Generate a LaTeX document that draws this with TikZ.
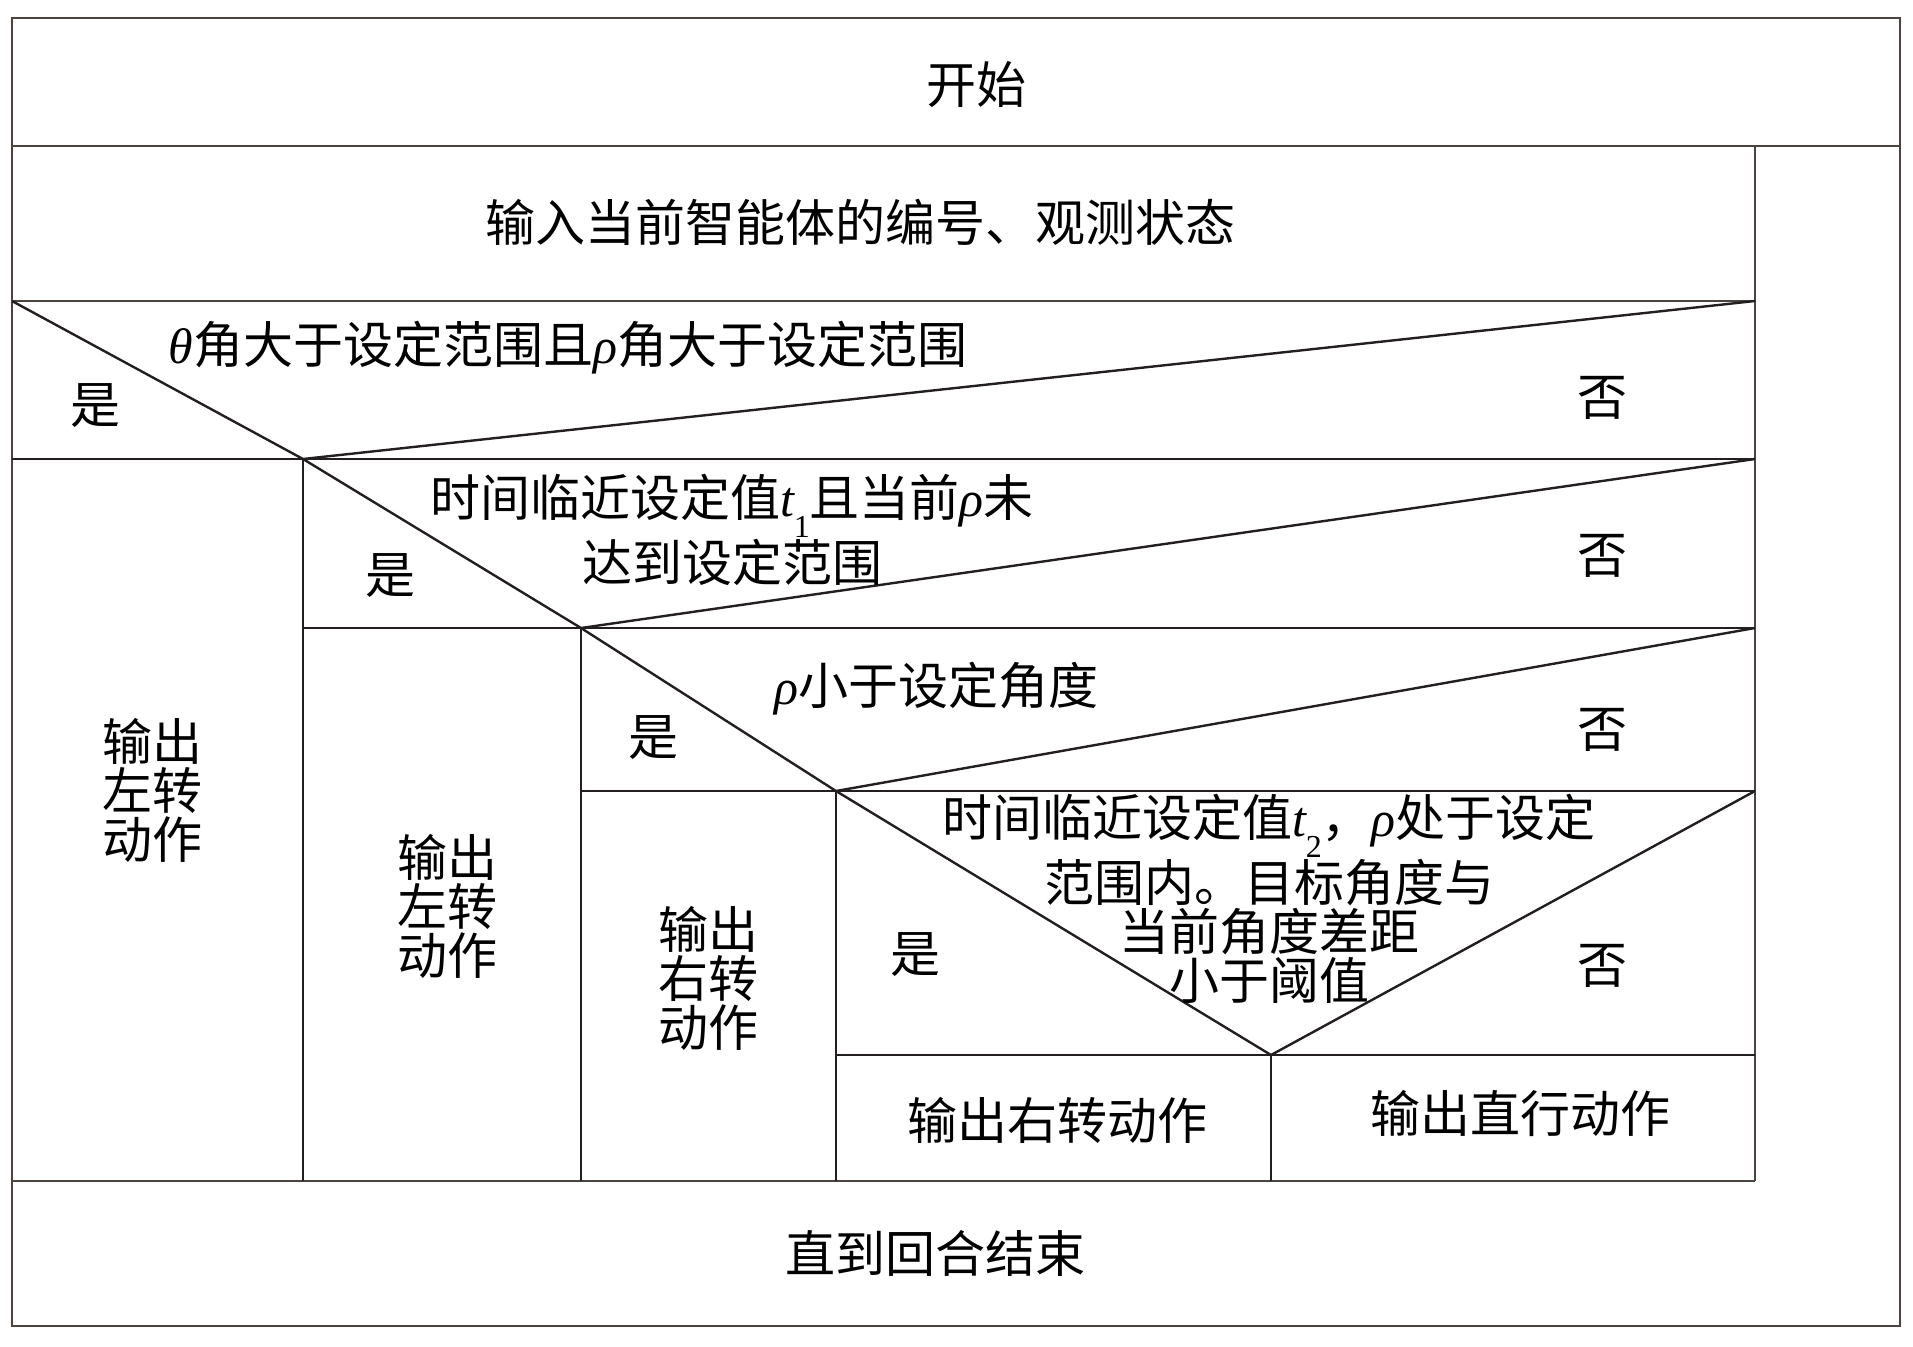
\documentclass[tikz,border=0pt]{standalone}
\usepackage{fontspec}
\newfontfamily\cjk{Noto Sans CJK SC}
\newfontfamily\tms{Liberation Serif}
\newcommand{\mvar}[1]{{\tms\itshape #1}}
\newcommand{\lsub}[1]{\raisebox{-0.42em}{\tms\fontsize{16}{16}\selectfont #1}}
\definecolor{lnc}{HTML}{231F20}
\definecolor{frc}{HTML}{4A4340}
\begin{document}
\begin{tikzpicture}[x=0.5pt,y=-0.5pt,
  framel/.style={draw=frc,line width=0.6pt},
  structl/.style={draw=lnc,line width=1.2pt},
  txt/.style={font=\cjk\fontsize{25}{25}\selectfont,inner sep=0pt,align=center,text=black},
  stack/.style={txt,font=\cjk\fontsize{25}{24.5}\selectfont}]
\useasboundingbox (0,0) rectangle (1913,1346);
% corner coordinates
\coordinate (oTL) at (12,18);
\coordinate (oBR) at (1900,1326);
\coordinate (a1) at (12,146);   \coordinate (a2) at (1900,146);
\coordinate (b1) at (1755,146); \coordinate (b2) at (1755,1181);
\coordinate (c1) at (12,1181);
\coordinate (d1) at (12,301);   \coordinate (d2) at (1755,301);
\coordinate (e1) at (12,459);   \coordinate (v1) at (303,459);  \coordinate (e2) at (1755,459);
\coordinate (v2) at (581,628);  \coordinate (f1) at (303,628);  \coordinate (f2) at (1755,628);
\coordinate (v3) at (836,791);  \coordinate (g1) at (581,791);  \coordinate (g2) at (1755,791);
\coordinate (v4) at (1271,1055);\coordinate (h1) at (836,1055); \coordinate (h2) at (1755,1055);
\coordinate (v1b) at (303,1181); \coordinate (v2b) at (581,1181);
\coordinate (v3b) at (836,1181); \coordinate (v4b) at (1271,1181);
% outer frame
\draw[framel] (oTL) rectangle (oBR);
\draw[framel] (a1) -- (a2);
\draw[framel] (b1) -- (b2);
\draw[framel] (c1) -- (b2);
\draw[framel] (d1) -- (d2);
% structure
\draw[structl] (e1) -- (e2);
\draw[structl] (f1) -- (f2);
\draw[structl] (g1) -- (g2);
\draw[structl] (h1) -- (h2);
\draw[structl] (v1) -- (v1b);
\draw[structl] (v2) -- (v2b);
\draw[structl] (v3) -- (v3b);
\draw[structl] (v4) -- (v4b);
\draw[structl] (d1) -- (v1) -- (d2);
\draw[structl] (v1) -- (v2) -- (e2);
\draw[structl] (v2) -- (v3) -- (f2);
\draw[structl] (v3) -- (v4) -- (g2);
% texts
\node[txt] (start) at (976,85) {开始};
\node[txt] (input) at (860,222) {输入当前智能体的编号、观测状态};
\node[txt] (q1) at (568,348) {\mvar{θ}角大于设定范围且\mvar{ρ}角大于设定范围};
\node[txt] (y1) at (95,406) {是};
\node[txt] (n1) at (1602,398) {否};
\node[txt,font=\cjk\fontsize{25}{27}\selectfont] (q2) at (732,530) {时间临近设定值\mvar{t}\lsub{1}且当前\mvar{ρ}未\\达到设定范围};
\node[txt] (y2) at (390,576) {是};
\node[txt] (n2) at (1602,556) {否};
\node[txt] (q3) at (936,689) {\mvar{ρ}小于设定角度};
\node[txt] (y3) at (653,738) {是};
\node[txt] (n3) at (1602,730) {否};
\node[stack] (q4) at (1269,899) {时间临近设定值\mvar{t}\lsub{2}，\mvar{ρ}处于设定\\范围内。目标角度与\\当前角度差距\\小于阈值};
\node[txt] (y4) at (915,955) {是};
\node[txt] (n4) at (1602,966) {否};
\node[stack] (o1) at (152,790) {输出\\左转\\动作};
\node[stack] (o2) at (447,906) {输出\\左转\\动作};
\node[stack] (o3) at (708,978) {输出\\右转\\动作};
\node[txt] (o4) at (1057,1120) {输出右转动作};
\node[txt] (o5) at (1520,1113) {输出直行动作};
\node[txt] (end) at (935,1253) {直到回合结束};
\end{tikzpicture}
\end{document}
